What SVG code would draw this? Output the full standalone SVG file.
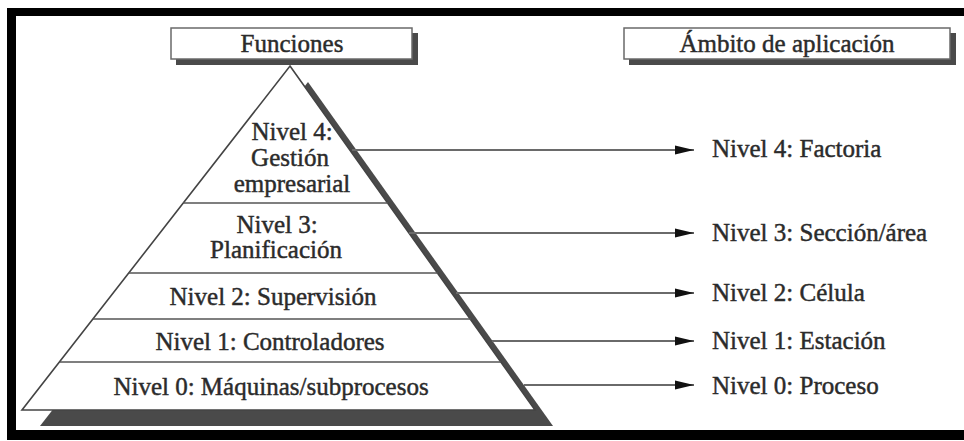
<svg xmlns="http://www.w3.org/2000/svg" width="964" height="441" viewBox="0 0 964 441">
<style>
.t{font-family:"Liberation Serif","Times New Roman",serif;font-size:25px;fill:#2b2b2b;stroke:#2b2b2b;stroke-width:0.45}
.c{text-anchor:middle}
.box{fill:#fff;stroke:#6a6a6a;stroke-width:1.5}
.bsh{fill:#4a4a4a}
.div{stroke:#555;stroke-width:1.6;fill:none}
.con{stroke:#6a6a6a;stroke-width:1.8;fill:none}
</style>
<defs>
<marker id="ah" markerWidth="20" markerHeight="10" refX="19" refY="5" orient="auto" markerUnits="userSpaceOnUse">
<path d="M0,0.5 L19,5 L0,9.5 Z" fill="#111"/>
</marker>
</defs>
<rect width="964" height="441" fill="#fff"/>
<path d="M7,8 H964 V16 H16 V430 H964 V440 H7 Z" fill="#000"/>

<g id="funciones">
<rect class="bsh" x="176" y="33" width="242" height="32"/>
<rect class="box" x="171" y="28" width="241" height="31"/>
<text class="t c" x="292" y="52">Funciones</text>
</g>
<g id="ambito">
<rect class="bsh" x="629" y="33" width="327" height="32"/>
<rect class="box" x="624" y="28" width="326" height="31"/>
<text class="t c" x="787" y="52">Ámbito de aplicación</text>
</g>

<g id="piramide">
<polygon points="308,82 553,426 40,426" fill="#4a4a4a"/>
<polygon points="290,66 535,410 22,410" fill="#fff" stroke="#444" stroke-width="1.6" stroke-linejoin="miter"/>
<line class="div" x1="183" y1="203" x2="388" y2="203"/>
<line class="div" x1="129" y1="273" x2="438" y2="273"/>
<line class="div" x1="93" y1="319" x2="471" y2="319"/>
<line class="div" x1="60" y1="362" x2="501" y2="362"/>
</g>

<g id="nivel4">
<text class="t c" x="292" y="140">Nivel 4:</text>
<text class="t c" x="290" y="166">Gestión</text>
<text class="t c" x="292" y="192">empresarial</text>
</g>
<g id="nivel3">
<text class="t c" x="277" y="233">Nivel 3:</text>
<text class="t c" x="276" y="258">Planificación</text>
</g>
<g id="nivel2"><text class="t c" x="273" y="305">Nivel 2: Supervisión</text></g>
<g id="nivel1"><text class="t c" x="270" y="350">Nivel 1: Controladores</text></g>
<g id="nivel0"><text class="t c" x="271" y="395">Nivel 0: Máquinas/subprocesos</text></g>

<g id="ambito4"><text class="t" x="712" y="157">Nivel 4: Factoria</text></g>
<g id="ambito3"><text class="t" x="712" y="241">Nivel 3: Sección/área</text></g>
<g id="ambito2"><text class="t" x="712" y="301">Nivel 2: Célula</text></g>
<g id="ambito1"><text class="t" x="712" y="349">Nivel 1: Estación</text></g>
<g id="ambito0"><text class="t" x="712" y="394">Nivel 0: Proceso</text></g>

<g id="conectores">
<line class="con" x1="352" y1="150" x2="694" y2="150" marker-end="url(#ah)"/>
<line class="con" x1="409" y1="233" x2="694" y2="233" marker-end="url(#ah)"/>
<line class="con" x1="456" y1="293" x2="694" y2="293" marker-end="url(#ah)"/>
<line class="con" x1="492" y1="341" x2="694" y2="341" marker-end="url(#ah)"/>
<line class="con" x1="524" y1="385" x2="694" y2="385" marker-end="url(#ah)"/>
</g>
</svg>
